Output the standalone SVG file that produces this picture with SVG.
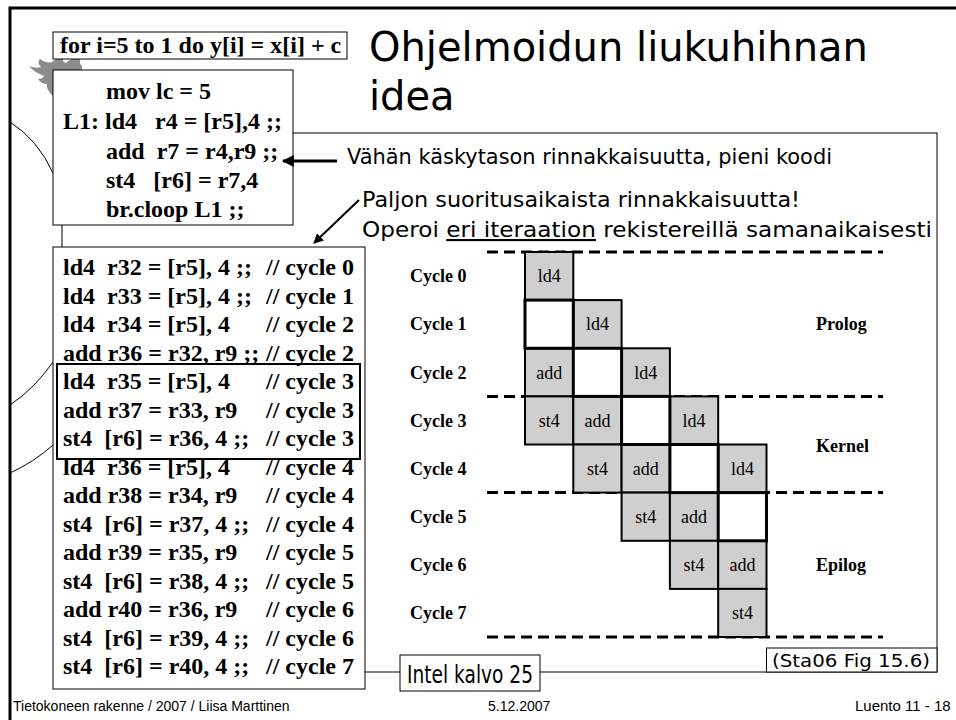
<svg xmlns="http://www.w3.org/2000/svg" width="956" height="720" viewBox="0 0 956 720">
  <style>
    .box { fill: #fff; stroke: #000; stroke-width: 1; }
    .code { font-family: "Liberation Serif", "Times New Roman", serif; font-weight: bold; font-size: 24px; fill: #000; white-space: pre; }
    .cmt { font-family: "Liberation Serif", "Times New Roman", serif; font-weight: bold; font-size: 24px; fill: #000; text-anchor: end; white-space: pre; }
    .note { font-family: "DejaVu Sans", sans-serif; font-size: 21px; fill: #000; }
    .title { font-family: "DejaVu Sans", sans-serif; font-size: 40px; fill: #000; }
    .cyc { font-family: "Liberation Serif", "Times New Roman", serif; font-weight: bold; font-size: 18px; fill: #000; }
    .op { font-family: "Liberation Serif", "Times New Roman", serif; font-size: 18px; fill: #000; text-anchor: middle; }
    .cell { fill: #cfcfcf; stroke: #000; stroke-width: 2; }
    .gap { fill: #fff; stroke: #000; stroke-width: 3; }
    .dash { stroke: #000; stroke-width: 3; stroke-dasharray: 11 6; fill: none; }
    .foot { font-family: "Liberation Sans", Arial, sans-serif; font-size: 14px; fill: #000; }
    .thin { fill: none; stroke: #000; stroke-width: 1; }
    .arrow { stroke: #000; fill: none; }
  </style>
  <defs>
    <marker id="head" viewBox="0 0 10 10" refX="9" refY="5" markerWidth="4" markerHeight="4" orient="auto" markerUnits="strokeWidth">
      <path d="M0,0 L10,5 L0,10 Z" fill="#000"/>
    </marker>
    <marker id="head2" viewBox="0 0 10 10" refX="9" refY="5" markerWidth="5" markerHeight="5" orient="auto" markerUnits="strokeWidth">
      <path d="M0,0 L10,5 L0,10 Z" fill="#000"/>
    </marker>
  </defs>

  <rect width="956" height="720" fill="#fff"/>

  <!-- slide template: frame, arcs and flame -->
  <g id="template">
    <path d="M10,720 L10,8 L956,8" fill="none" stroke="#000" stroke-width="3"/>
    <path class="thin" d="M10,122 Q38,140 53,173"/>
    <path class="thin" d="M10,405 Q35,388 53,362"/>
    <path class="thin" d="M10,473 Q34,462 53,445"/>
    <path d="M53,96 C49,92 46,88 47,84 C43,84 40,82 38,79 C41,79 43,78 44,76 C39,74 33,71 29,66 C34,68 38,68 41,67 C38,64 38,61 40,59 C44,62 48,63 52,62 C55,59 59,57 64,57 C62,60 63,62 66,63 C70,59 75,57 81,58 C79,61 80,64 82,66 L82,72 L53,72 Z" fill="#8c8c8c"/>
  </g>

  <!-- frame holding the schedule figure -->
  <g id="figure-frame">
    <rect x="62" y="133" width="875" height="539" fill="#fff" stroke="#000" stroke-width="1"/>
  </g>

  <!-- loop header -->
  <g id="loop-header">
    <rect class="box" x="53" y="32" width="294" height="27"/>
    <text class="code" x="60" y="53">for i=5 to 1 do y[i] = x[i] + c</text>
  </g>

  <!-- title -->
  <g id="title">
    <text class="title" x="369" y="61">Ohjelmoidun liukuhihnan</text>
    <text class="title" x="369" y="110">idea</text>
  </g>

  <!-- original loop body -->
  <g id="loop-body">
    <rect class="box" x="53" y="70" width="240" height="155"/>
    <text class="code" x="106" y="99">mov lc = 5</text>
    <text class="code" x="63" y="129">L1: ld4   r4 = [r5],4 ;;</text>
    <text class="code" x="106" y="159">add  r7 = r4,r9 ;;</text>
    <text class="code" x="106" y="188">st4   [r6] = r7,4</text>
    <text class="code" x="106" y="217">br.cloop L1 ;;</text>
  </g>

  <!-- notes -->
  <g id="notes">
    <text class="note" x="347" y="164" textLength="485" lengthAdjust="spacingAndGlyphs">Vähän käskytason rinnakkaisuutta, pieni koodi</text>
    <text class="note" x="362" y="207" textLength="438" lengthAdjust="spacingAndGlyphs">Paljon suoritusaikaista rinnakkaisuutta!</text>
    <text class="note" x="362" y="237" textLength="570" lengthAdjust="spacingAndGlyphs">Operoi <tspan style="text-decoration:underline">eri iteraation</tspan> rekistereillä samanaikaisesti</text>
  </g>

  <!-- pipelined code -->
  <g id="pipelined-code">
    <rect class="box" x="53" y="247" width="312" height="442"/>
    <text class="code" x="63" y="275">ld4  r32 = [r5], 4 ;;</text><text class="cmt" x="354" y="275">// cycle 0</text>
    <text class="code" x="63" y="303.5">ld4  r33 = [r5], 4 ;;</text><text class="cmt" x="354" y="303.5">// cycle 1</text>
    <text class="code" x="63" y="332">ld4  r34 = [r5], 4</text><text class="cmt" x="354" y="332">// cycle 2</text>
    <text class="code" x="63" y="360.5">add r36 = r32, r9 ;;</text><text class="cmt" x="354" y="360.5">// cycle 2</text>
    <text class="code" x="63" y="389">ld4  r35 = [r5], 4</text><text class="cmt" x="354" y="389">// cycle 3</text>
    <text class="code" x="63" y="417.5">add r37 = r33, r9</text><text class="cmt" x="354" y="417.5">// cycle 3</text>
    <text class="code" x="63" y="446">st4  [r6] = r36, 4 ;;</text><text class="cmt" x="354" y="446">// cycle 3</text>
    <text class="code" x="63" y="474.5">ld4  r36 = [r5], 4</text><text class="cmt" x="354" y="474.5">// cycle 4</text>
    <text class="code" x="63" y="503">add r38 = r34, r9</text><text class="cmt" x="354" y="503">// cycle 4</text>
    <text class="code" x="63" y="531.5">st4  [r6] = r37, 4 ;;</text><text class="cmt" x="354" y="531.5">// cycle 4</text>
    <text class="code" x="63" y="560">add r39 = r35, r9</text><text class="cmt" x="354" y="560">// cycle 5</text>
    <text class="code" x="63" y="588.5">st4  [r6] = r38, 4 ;;</text><text class="cmt" x="354" y="588.5">// cycle 5</text>
    <text class="code" x="63" y="617">add r40 = r36, r9</text><text class="cmt" x="354" y="617">// cycle 6</text>
    <text class="code" x="63" y="645.5">st4  [r6] = r39, 4 ;;</text><text class="cmt" x="354" y="645.5">// cycle 6</text>
    <text class="code" x="63" y="674">st4  [r6] = r40, 4 ;;</text><text class="cmt" x="354" y="674">// cycle 7</text>
    <!-- kernel group -->
    <rect x="57" y="364" width="303" height="95" fill="none" stroke="#000" stroke-width="2"/>
  </g>

  <!-- connectors -->
  <g id="connectors">
    <line class="arrow" x1="337" y1="161" x2="283" y2="161" stroke-width="3" marker-end="url(#head)"/>
    <line class="arrow" x1="359" y1="200" x2="314" y2="243" stroke-width="2" marker-end="url(#head2)"/>
  </g>

  <!-- schedule figure -->
  <g id="schedule">
    <line class="dash" x1="487" y1="252" x2="883" y2="252"/>
    <line class="dash" x1="487" y1="396.4" x2="883" y2="396.4"/>
    <line class="dash" x1="487" y1="492.6" x2="883" y2="492.6"/>
    <line class="dash" x1="487" y1="637" x2="883" y2="637"/>

    <text class="cyc" x="410" y="282">Cycle 0</text>
    <text class="cyc" x="410" y="330">Cycle 1</text>
    <text class="cyc" x="410" y="378.5">Cycle 2</text>
    <text class="cyc" x="410" y="426.5">Cycle 3</text>
    <text class="cyc" x="410" y="474.5">Cycle 4</text>
    <text class="cyc" x="410" y="522.5">Cycle 5</text>
    <text class="cyc" x="410" y="571">Cycle 6</text>
    <text class="cyc" x="410" y="619">Cycle 7</text>

    <text class="cyc" x="816" y="330">Prolog</text>
    <text class="cyc" x="816" y="452">Kernel</text>
    <text class="cyc" x="816" y="571">Epilog</text>

    <!-- occupied slots -->
    <g id="slots">
      <rect class="cell" x="525" y="252" width="48.3" height="48.1"/>
      <rect class="cell" x="573.3" y="300.1" width="48.3" height="48.2"/>
      <rect class="cell" x="525" y="348.3" width="48.3" height="48.1"/>
      <rect class="cell" x="621.6" y="348.3" width="48.3" height="48.1"/>
      <rect class="cell" x="525" y="396.4" width="48.3" height="48.1"/>
      <rect class="cell" x="573.3" y="396.4" width="48.3" height="48.1"/>
      <rect class="cell" x="669.9" y="396.4" width="48.3" height="48.1"/>
      <rect class="cell" x="573.3" y="444.5" width="48.3" height="48.1"/>
      <rect class="cell" x="621.6" y="444.5" width="48.3" height="48.1"/>
      <rect class="cell" x="718.2" y="444.5" width="48.3" height="48.1"/>
      <rect class="cell" x="621.6" y="492.6" width="48.3" height="48.2"/>
      <rect class="cell" x="669.9" y="492.6" width="48.3" height="48.2"/>
      <rect class="cell" x="669.9" y="540.8" width="48.3" height="48.1"/>
      <rect class="cell" x="718.2" y="540.8" width="48.3" height="48.1"/>
      <rect class="cell" x="718.2" y="588.9" width="48.3" height="48.1"/>
    </g>
    <!-- empty slots -->
    <g id="empty-slots">
      <rect class="gap" x="525" y="300.1" width="48.3" height="48.2"/>
      <rect class="gap" x="573.3" y="348.3" width="48.3" height="48.1"/>
      <rect class="gap" x="621.6" y="396.4" width="48.3" height="48.1"/>
      <rect class="gap" x="669.9" y="444.5" width="48.3" height="48.1"/>
      <rect class="gap" x="718.2" y="492.6" width="48.3" height="48.2"/>
    </g>
    <g id="slot-labels">
      <text class="op" x="549.2" y="282">ld4</text>
      <text class="op" x="597.5" y="330">ld4</text>
      <text class="op" x="549.2" y="378.5">add</text>
      <text class="op" x="645.8" y="378.5">ld4</text>
      <text class="op" x="549.2" y="426.5">st4</text>
      <text class="op" x="597.5" y="426.5">add</text>
      <text class="op" x="694.1" y="426.5">ld4</text>
      <text class="op" x="597.5" y="474.5">st4</text>
      <text class="op" x="645.8" y="474.5">add</text>
      <text class="op" x="742.4" y="474.5">ld4</text>
      <text class="op" x="645.8" y="522.5">st4</text>
      <text class="op" x="694.1" y="522.5">add</text>
      <text class="op" x="694.1" y="571">st4</text>
      <text class="op" x="742.4" y="571">add</text>
      <text class="op" x="742.4" y="619">st4</text>
    </g>
  </g>

  <!-- source labels -->
  <g id="source">
    <rect class="box" x="766.5" y="648" width="170.5" height="24"/>
    <text class="note" x="772" y="667" style="font-size:17px" textLength="158" lengthAdjust="spacingAndGlyphs">(Sta06 Fig 15.6)</text>
  </g>
  <g id="intel-ref">
    <rect class="box" x="400" y="655" width="140" height="36"/>
    <text class="note" x="407" y="683" style="font-size:24px" textLength="126" lengthAdjust="spacingAndGlyphs">Intel kalvo 25</text>
  </g>

  <!-- footer -->
  <g id="footer">
    <text class="foot" x="13" y="711">Tietokoneen rakenne / 2007 / Liisa Marttinen</text>
    <text class="foot" x="488" y="711">5.12.2007</text>
    <text class="foot" x="855" y="711" style="font-size:15px">Luento 11 - 18</text>
  </g>
</svg>
